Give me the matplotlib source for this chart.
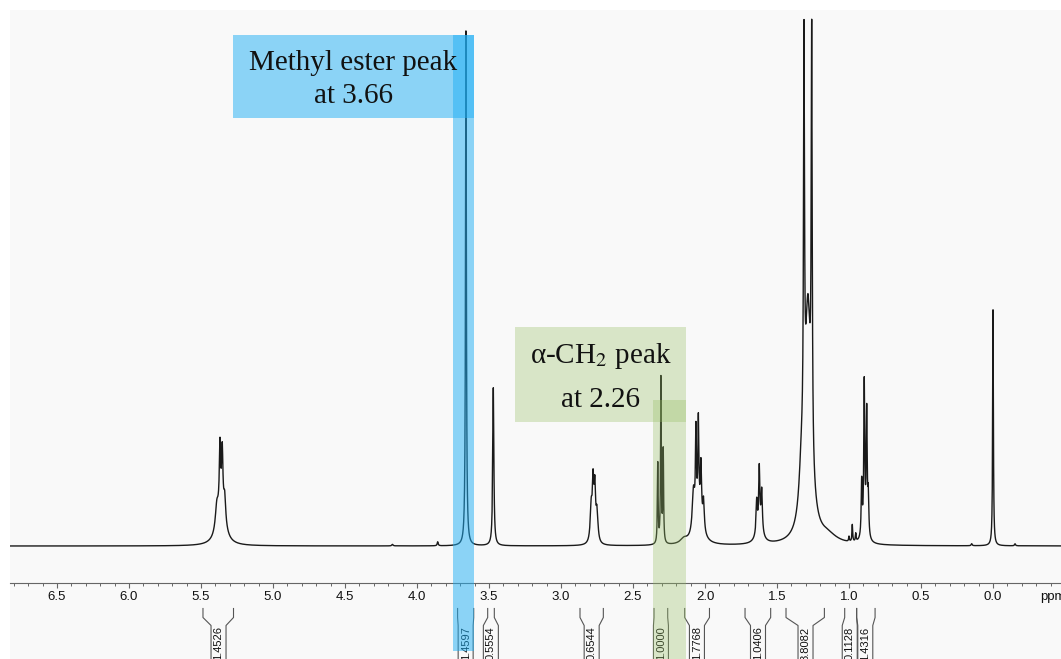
import numpy as np
import matplotlib
matplotlib.use("Agg")
import matplotlib.pyplot as plt
from matplotlib.ticker import MultipleLocator, FuncFormatter
from matplotlib.patches import Rectangle

plt.rcParams["font.family"] = ["Liberation Sans", "DejaVu Sans"]
plt.rcParams["mathtext.fontset"] = "stix"

# ---- spectrum peak list (ppm, height, half-width at half-max in ppm) ----
peak_ppm = [5.39, 5.368, 5.352, 5.335, 5.36,
            4.17, 3.856, 3.66, 3.47,
            2.79, 2.777, 2.765, 2.75,
            2.328, 2.306, 2.29, 2.146,
            2.08, 2.063, 2.046, 2.028, 2.01, 2.045,
            1.641, 1.623, 1.606, 1.622,
            1.3125, 1.259, 1.285, 1.33, 1.15,
            1.0, 0.977, 0.953,
            0.912, 0.894, 0.877, 0.866, 0.89,
            0.148, 0.0, -0.153]
peak_height = [22, 60, 55, 25, 40,
               1.5, 4, 515, 158,
               35, 55, 50, 30,
               80, 165, 92, 5,
               40, 85, 90, 55, 30, 30,
               32, 55, 40, 20,
               395, 410, 225, 45, 8,
               5, 17, 8,
               55, 150, 122, 40, 8,
               2, 236, 2]
peak_hwhm = [0.012, 0.005, 0.005, 0.008, 0.03,
             0.005, 0.004, 0.0035, 0.0045,
             0.008, 0.006, 0.006, 0.008,
             0.003, 0.003, 0.003, 0.03,
             0.01, 0.004, 0.004, 0.005, 0.006, 0.03,
             0.005, 0.004, 0.005, 0.022,
             0.004, 0.004, 0.025, 0.02, 0.08,
             0.003, 0.003, 0.003,
             0.004, 0.004, 0.004, 0.004, 0.02,
             0.004, 0.003, 0.004]

# ---- integral regions (left ppm, right ppm, label centre ppm, label) ----
int_left = [5.486, 3.718, 3.509, 2.868, 2.354, 2.141, 1.722, 1.4375, 1.030, 0.947]
int_right = [5.274, 3.606, 3.463, 2.706, 2.259, 1.969, 1.544, 1.171, 0.947, 0.819]
int_centre = [5.378, 3.662, 3.487, 2.787, 2.306, 2.056, 1.632, 1.302, 0.995, 0.887]
int_labels = ["1.4526", "1.4597", "0.5554", "0.6544", "1.0000",
              "1.7768", "1.0406", "3.8082", "0.1128", "1.4316"]

# ---- highlight annotations ----
methyl_lines = ["Methyl ester peak", "at 3.66"]
alpha_lines = ["α-CH$_2$ peak", "at 2.26"]

X_LEFT, X_RIGHT = 6.826, -0.472
ppm = np.linspace(X_RIGHT, X_LEFT, 40000)
spec = np.zeros_like(ppm)
for p, h, w in zip(peak_ppm, peak_height, peak_hwhm):
    spec += h / (1.0 + ((ppm - p) / w) ** 2)

W, H = 1061, 659
fig = plt.figure(figsize=(W / 100, H / 100), dpi=100)
fig.patch.set_facecolor("white")
fig.add_artist(Rectangle((10 / W, 0), 1 - 10 / W, 1 - 10 / H, transform=fig.transFigure,
                         facecolor="#f9f9f9", edgecolor="none", zorder=-10))

ax = fig.add_axes([10 / W, (H - 583) / H, 1051 / W, 573 / H])
ax.set_facecolor("none")
ax.plot(ppm, spec, color="#1a1a1a", lw=1.0, zorder=2)
ax.set_xlim(X_LEFT, X_RIGHT)
ax.set_ylim(-37, 536)

for s in ["top", "left", "right"]:
    ax.spines[s].set_visible(False)
ax.spines["bottom"].set_color("#666666")
ax.spines["bottom"].set_linewidth(0.8)
ax.set_yticks([])
ax.xaxis.set_major_locator(MultipleLocator(0.5))
ax.xaxis.set_minor_locator(MultipleLocator(0.1))
ax.xaxis.set_major_formatter(FuncFormatter(lambda v, p: f"{abs(v):.1f}" if abs(v) < 1e-9 else f"{v:.1f}"))
ax.tick_params(axis="x", which="major", direction="out", length=3.6, width=0.8,
               color="#666666", labelsize=9.5, pad=2.5, labelcolor="#111111")
ax.tick_params(axis="x", which="minor", direction="out", length=2.0, width=0.7, color="#666666")
ax.text(-0.326, (583 - 597) / 573, "ppm", transform=ax.get_xaxis_transform(),
        ha="left", va="center", fontsize=9.5, color="#111111")

# ---- integral brackets + labels ----
ay = lambda y: (583 - y) / 573
xt = ax.get_xaxis_transform()
hw = 7.5 / 144
for xl, xr, xc, lab in zip(int_left, int_right, int_centre, int_labels):
    for xa, xb in [(xl, xc + hw), (xr, xc - hw)]:
        ax.plot([xa, xa, xb, xb], [ay(608.5), ay(617.5), ay(625.5), ay(680)],
                transform=xt, color="#555555", lw=0.8, clip_on=False, zorder=2)
    ax.text(xc, ay(626.5), lab, transform=xt, rotation=90, ha="center", va="top",
            fontsize=8, color="#111111", clip_on=False, zorder=2)

# ---- highlight bands and boxes ----
blue = "#1eaff5"
green = "#96be64"
ax.axvspan(3.752, 3.604, ay(651), ay(35), color=blue, alpha=0.5, lw=0, clip_on=False, zorder=3)
ax.axvspan(5.28, 3.604, ay(118), ay(35), color=blue, alpha=0.5, lw=0, clip_on=False, zorder=3)
ax.axvspan(2.359, 2.134, ay(690), ay(400), color=green, alpha=0.33, lw=0, clip_on=False, zorder=3)
ax.axvspan(3.319, 2.134, ay(421.7), ay(327.3), color=green, alpha=0.33, lw=0, clip_on=False, zorder=3)

serif = ["Liberation Serif", "DejaVu Serif"]
for line, yb in zip(methyl_lines, [70, 102.7]):
    ax.text((5.28 + 3.604) / 2, ay(yb), line, transform=xt, ha="center", va="baseline",
            fontsize=21, family=serif, color="#111111", zorder=4)
for line, yb in zip(alpha_lines, [363.3, 407.3]):
    ax.text((3.319 + 2.134) / 2, ay(yb), line, transform=xt, ha="center", va="baseline",
            fontsize=21, family=serif, color="#111111", zorder=4)

fig.savefig("out.png", dpi=100)
